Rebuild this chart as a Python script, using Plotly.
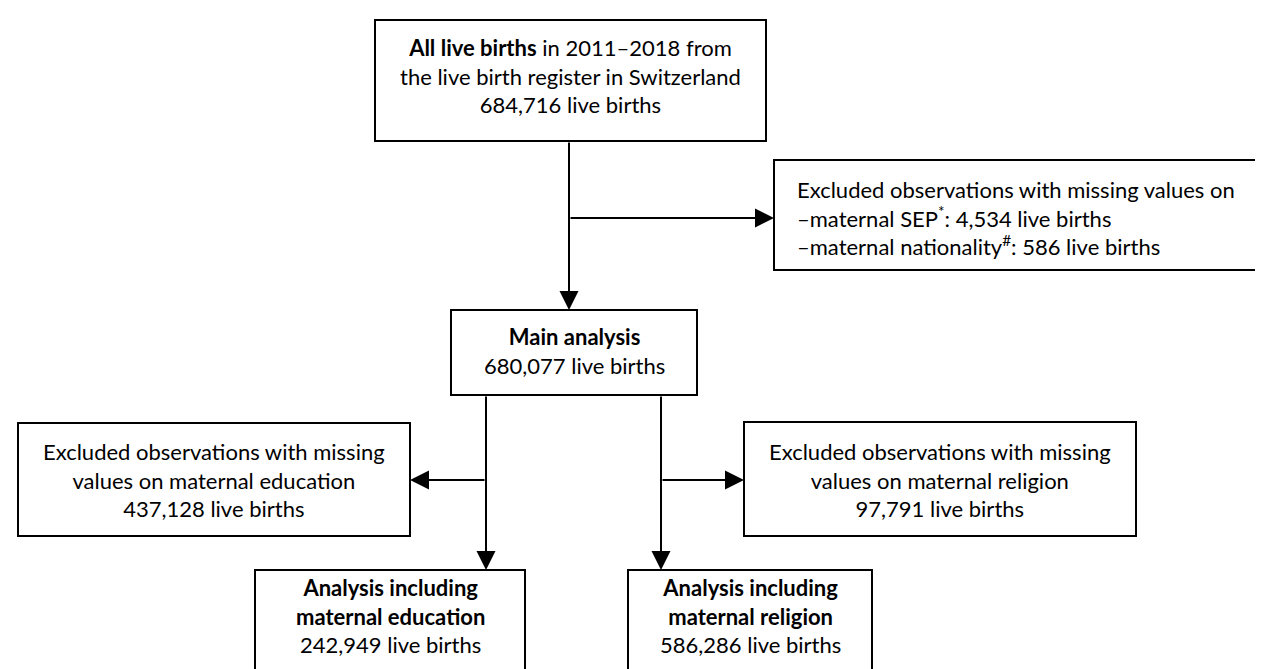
import plotly.graph_objects as go

# ---- data (text content of the flowchart) ----
box_ids = ["all", "excl1", "main", "excl_edu", "excl_rel", "edu", "rel"]
box_titles = [
    "<b>All live births</b> in 2011–2018 from<br>the live birth register in Switzerland",
    "Excluded observations with missing values on",
    "<b>Main analysis</b>",
    "Excluded observations with missing<br>values on maternal education",
    "Excluded observations with missing<br>values on maternal religion",
    "<b>Analysis including<br>maternal education</b>",
    "<b>Analysis including<br>maternal religion</b>",
]
box_counts = [684716, None, 680077, 437128, 97791, 242949, 586286]
excl1_items = ["maternal SEP<sup>*</sup>", "maternal nationality<sup>#</sup>"]
excl1_counts = [4534, 586]

# ---- layout (pixel geometry of the drawing) ----
W, H = 1263, 669
geom = {  # x0, y0, x1, y1
    "all": (367, 12, 758, 133),
    "excl1": (766, 152, 1260, 262),
    "main": (443, 302, 689, 387),
    "excl_edu": (10, 415, 402, 528),
    "excl_rel": (736, 414, 1128, 528),
    "edu": (247, 562, 517, 690),
    "rel": (620, 562, 864, 690),
}
text_pos = {  # x, y, anchor
    "all": (562, 68, "center"),
    "excl1": (787, 210, "left"),
    "main": (566, 343, "center"),
    "excl_edu": (206, 472, "center"),
    "excl_rel": (932, 472, "center"),
    "edu": (382, 608, "center"),
    "rel": (742, 608, "center"),
}
arrows = [  # tail x, tail y, head x, head y
    (561, 133, 561, 302),
    (561, 210, 766, 210),
    (478, 387, 478, 562),
    (478, 472, 402, 472),
    (653, 387, 653, 562),
    (653, 472, 736, 472),
]

FONT = "Lato, Carlito, Calibri, sans-serif"
FS = 22

fig = go.Figure()
fig.add_trace(go.Scatter(x=[0, W], y=[0, H], mode="markers",
                         marker=dict(opacity=0), hoverinfo="skip", showlegend=False))

for bid in box_ids:
    x0, y0, x1, y1 = geom[bid]
    fig.add_shape(type="rect", x0=x0, y0=y0, x1=x1, y1=y1, xref="x", yref="y",
                  line=dict(color="black", width=2), fillcolor="white", layer="below")

def fmt(n):
    return f"{n:,} live births"

for bid, title, cnt in zip(box_ids, box_titles, box_counts):
    if bid == "excl1":
        lines = [title] + [f"–{it}: {fmt(c)}" for it, c in zip(excl1_items, excl1_counts)]
        txt = "<br>".join(lines)
    else:
        txt = title + "<br>" + fmt(cnt)
    x, y, anc = text_pos[bid]
    fig.add_annotation(x=x, y=y, xref="x", yref="y", text=txt, showarrow=False,
                       xanchor=anc, yanchor="middle", align=anc,
                       font=dict(family=FONT, size=FS, color="black"))

for tx, ty, hx, hy in arrows:
    fig.add_annotation(x=hx, y=hy, ax=tx, ay=ty, xref="x", yref="y", axref="x", ayref="y",
                       text="", showarrow=True, arrowhead=2, arrowsize=1.9,
                       arrowwidth=2, arrowcolor="black", standoff=0, startstandoff=0)

fig.update_xaxes(range=[0, W], visible=False, fixedrange=True)
fig.update_yaxes(range=[H, 0], visible=False, fixedrange=True)
fig.update_layout(width=W, height=H, margin=dict(l=0, r=0, t=0, b=0),
                  plot_bgcolor="white", paper_bgcolor="white", showlegend=False)

fig.write_html("out.html", config={"displayModeBar": False})
